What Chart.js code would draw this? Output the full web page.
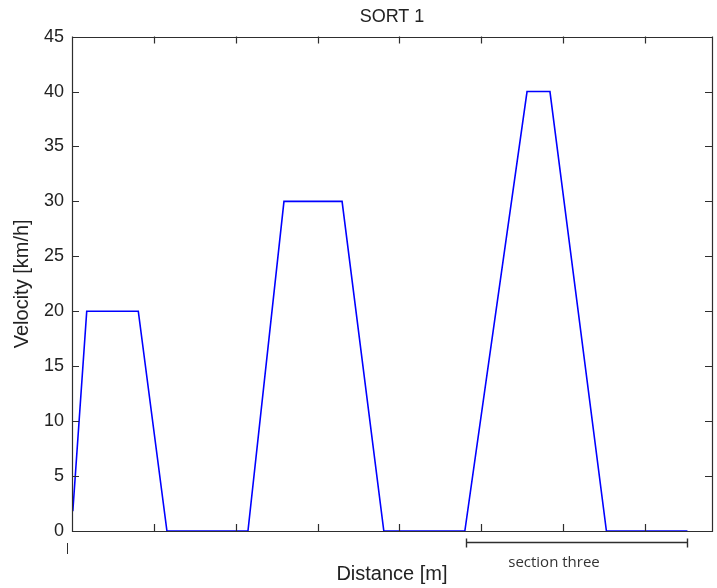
<!DOCTYPE html>
<html>
<head>
<meta charset="utf-8">
<script src="https://cdn.jsdelivr.net/npm/chart.js@4.4.1/dist/chart.umd.min.js"></script>
<style>
  html, body { margin: 0; padding: 0; background: #fff; }
  #wrap { width: 717px; height: 588px; }
</style>
</head>
<body>
<div id="wrap"><canvas id="sort1"></canvas></div>
<script>
// values (distance in m, velocity in km/h)
const distance = [1, 18, 81, 116, 215, 259, 330, 381, 480, 556, 584, 653, 752];
const velocity = [1.8, 20, 20, 0, 0, 30, 30, 0, 0, 40, 40, 0, 0];
const xLimits = [0, 782];
const yLimits = [0, 45];
const sectionThree = [481, 752];
const sectionLabel = 'section three';

const axisColor = '#2e2e2e';
const textColor = '#222222';

// MATLAB style box with inward ticks, plus the "section three" bracket
const matlabBox = {
    id: 'matlabBox',
    afterDatasetsDraw(chart) {
        const ctx = chart.ctx;
        const a = chart.chartArea;
        const x = chart.scales.x;
        const y = chart.scales.y;
        const tl = 7;

        ctx.save();
        ctx.strokeStyle = axisColor;
        ctx.lineWidth = 1.2;
        ctx.beginPath();
        ctx.rect(Math.round(a.left) + 0.5, Math.round(a.top) + 0.5,
                 Math.round(a.right - a.left), Math.round(a.bottom - a.top));
        x.ticks.forEach(t => {
            const px = Math.round(x.getPixelForValue(t.value)) + 0.5;
            ctx.moveTo(px, a.bottom); ctx.lineTo(px, a.bottom - tl);
            ctx.moveTo(px, a.top); ctx.lineTo(px, a.top + tl);
        });
        y.ticks.forEach(t => {
            const py = Math.round(y.getPixelForValue(t.value)) + 0.5;
            ctx.moveTo(a.left, py); ctx.lineTo(a.left + tl, py);
            ctx.moveTo(a.right, py); ctx.lineTo(a.right - tl, py);
        });
        ctx.stroke();

        // bracket below the axis
        const x1 = Math.round(x.getPixelForValue(sectionThree[0])) + 0.5;
        const x2 = Math.round(x.getPixelForValue(sectionThree[1])) + 0.5;
        const by = Math.round(a.bottom + 11) + 0.5;
        ctx.lineWidth = 1.4;
        ctx.beginPath();
        ctx.moveTo(x1, by); ctx.lineTo(x2, by);
        ctx.moveTo(x1, by - 4); ctx.lineTo(x1, by + 5);
        ctx.moveTo(x2, by - 4); ctx.lineTo(x2, by + 5);
        ctx.stroke();

        ctx.fillStyle = '#333';
        ctx.font = '15px "Open Sans"';
        ctx.textAlign = 'center';
        ctx.textBaseline = 'middle';
        ctx.fillText(sectionLabel, (x1 + x2) / 2 - 23, a.bottom + 32);

        // small mark under the origin
        ctx.beginPath();
        ctx.lineWidth = 1;
        ctx.moveTo(a.left - 4.5, a.bottom + 12);
        ctx.lineTo(a.left - 4.5, a.bottom + 23);
        ctx.stroke();
        ctx.restore();
    }
};

const ctx = document.getElementById('sort1').getContext('2d');

const chart = new Chart(ctx, {
    type: 'line',
    data: {
        datasets: [{
            label: 'Velocity',
            data: distance.map((d, i) => ({x: d, y: velocity[i]})),
            borderColor: '#0000ff',
            borderWidth: 1.6,
            pointRadius: 0,
            tension: 0,
            fill: false,
            clip: 3
        }]
    },
    options: {
        responsive: true,
        maintainAspectRatio: false,
        animation: false,
        layout: { padding: { left: 0, right: 5, top: 0, bottom: 0 } },
        plugins: {
            legend: { display: false },
            tooltip: { enabled: false },
            title: {
                display: true,
                text: 'SORT 1',
                fullSize: false,
                color: textColor,
                font: { family: '"Liberation Sans", Arial, sans-serif', size: 18, weight: 'normal' },
                padding: { top: 6, bottom: 9 }
            }
        },
        scales: {
            x: {
                type: 'linear',
                min: xLimits[0],
                max: xLimits[1],
                border: { display: false },
                grid: { display: false, drawTicks: false },
                ticks: { display: false, stepSize: 100 },
                title: {
                    display: true,
                    text: 'Distance [m]',
                    color: textColor,
                    font: { family: '"Liberation Sans", Arial, sans-serif', size: 20 },
                    padding: { top: 0, bottom: 2 }
                },
                afterFit(scale) { scale.height = 57; }
            },
            y: {
                min: yLimits[0],
                max: yLimits[1],
                border: { display: false },
                grid: { display: false, drawTicks: false },
                ticks: {
                    stepSize: 5,
                    padding: 8,
                    color: textColor,
                    font: { family: '"Liberation Sans", Arial, sans-serif', size: 18 }
                },
                title: {
                    display: true,
                    text: 'Velocity [km/h]',
                    color: textColor,
                    font: { family: '"Liberation Sans", Arial, sans-serif', size: 20 },
                    padding: { top: 10, bottom: 0 }
                },
                afterFit(scale) { scale.width = 72; }
            }
        }
    },
    plugins: [matlabBox]
});
</script>
</body>
</html>
